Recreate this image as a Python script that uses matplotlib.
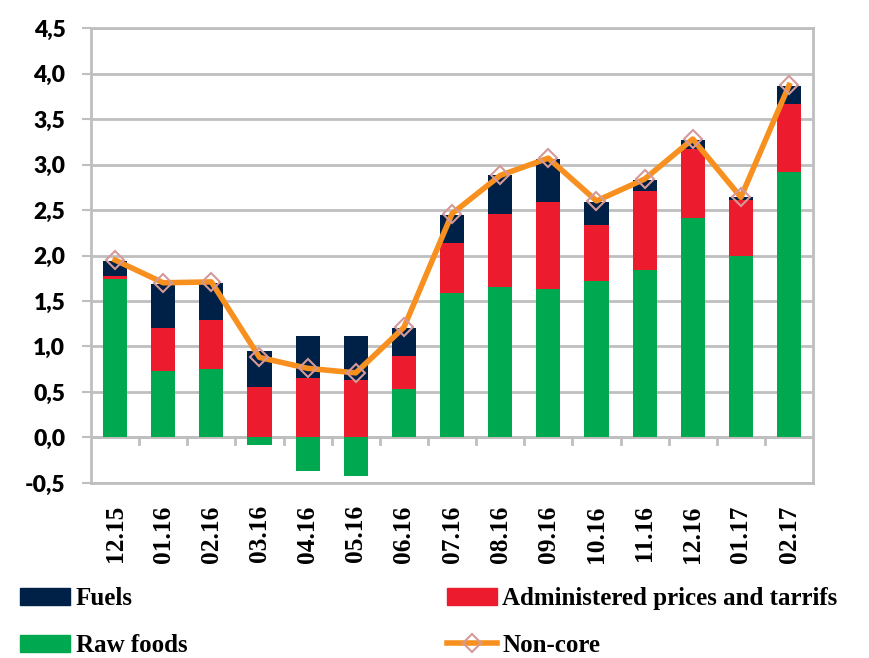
import matplotlib
matplotlib.use("Agg")
import matplotlib.pyplot as plt
import numpy as np
from matplotlib.lines import Line2D
from matplotlib.patches import Patch

months = ["12.15", "01.16", "02.16", "03.16", "04.16", "05.16", "06.16", "07.16",
          "08.16", "09.16", "10.16", "11.16", "12.16", "01.17", "02.17"]
raw_foods = [1.74, 0.73, 0.75, -0.08, -0.37, -0.42, 0.53, 1.59, 1.65, 1.63, 1.72, 1.84, 2.41, 1.99, 2.92]
administered = [0.03, 0.47, 0.54, 0.56, 0.65, 0.63, 0.36, 0.55, 0.81, 0.96, 0.61, 0.87, 0.76, 0.62, 0.74]
fuels = [0.17, 0.49, 0.41, 0.39, 0.47, 0.49, 0.31, 0.31, 0.42, 0.47, 0.26, 0.12, 0.10, 0.03, 0.20]
non_core = [1.95, 1.70, 1.71, 0.88, 0.76, 0.71, 1.21, 2.46, 2.88, 3.07, 2.60, 2.84, 3.28, 2.64, 3.87]
yticks = [-0.5, 0.0, 0.5, 1.0, 1.5, 2.0, 2.5, 3.0, 3.5, 4.0, 4.5]

c_green = "#00A84F"
c_red = "#EC1C2E"
c_navy = "#002147"
c_orange = "#F7901E"
c_grid = "#BFBFBF"
c_medge = "#D49A9A"

fig = plt.figure(figsize=(8.7, 6.58), dpi=100)
ax = fig.add_axes([0.1046, 0.266, 0.83, 0.6914])

x = np.arange(len(months))
g = np.array(raw_foods)
r = np.array(administered)
f = np.array(fuels)
base_r = np.maximum(g, 0)
base_f = base_r + r
w = 0.5
ax.bar(x, g, w, color=c_green, zorder=2)
ax.bar(x, r, w, bottom=base_r, color=c_red, zorder=2)
ax.bar(x, f, w, bottom=base_f, color=c_navy, zorder=2)
ax.plot(x, non_core, color=c_orange, lw=4, zorder=3, marker="D", markersize=9,
        markerfacecolor="none", markeredgecolor=c_medge, markeredgewidth=1.5)

ax.set_xlim(-0.5, len(months) - 0.5)
ax.set_ylim(-0.5, 4.5)
ax.set_yticks(yticks)
ax.set_yticklabels([f"{v:.1f}".replace(".", ",") for v in yticks],
                   fontfamily="Lato", fontweight="heavy", fontsize=16.5)
ax.yaxis.grid(True, color=c_grid, lw=2, zorder=0)
ax.set_axisbelow(True)
for s in ax.spines.values():
    s.set_color(c_grid)
    s.set_linewidth(2)
ax.tick_params(axis="y", colors=c_grid, length=6.5, width=1.5, labelcolor="black", pad=12)

# x axis at zero with ticks between categories
ax.axhline(0, color=c_grid, lw=2, zorder=1)
ax.set_xticks(x)
ax.set_xticklabels(months, rotation=90, fontfamily="Liberation Serif",
                   fontweight="bold", fontsize=18.3)
ax.tick_params(axis="x", length=0, pad=16)
for xb in np.arange(0.5, len(months) - 0.5, 1.0):
    ax.plot([xb, xb], [0, -0.07], color=c_grid, lw=2, zorder=1, clip_on=False)

prop = {"family": "Liberation Serif", "weight": "bold", "size": 18.0}
kw = dict(frameon=False, prop=prop, handlelength=2.0, handleheight=0.7,
          handletextpad=0.22, labelspacing=0.95, borderpad=0, borderaxespad=0,
          loc="lower left")
leg1 = fig.legend([Patch(color=c_navy), Patch(color=c_green)], ["Fuels", "Raw foods"],
                  bbox_to_anchor=(20 / 870, 1 / 658), **kw)
leg2 = fig.legend([Patch(color=c_red),
                   Line2D([0], [0], color=c_orange, lw=4, marker="D", markersize=9,
                          markerfacecolor="none", markeredgecolor=c_medge, markeredgewidth=1.5)],
                  ["Administered prices and tarrifs", "Non-core"],
                  bbox_to_anchor=(447 / 870, 1 / 658), **kw)

fig.savefig("out.png", dpi=100)
